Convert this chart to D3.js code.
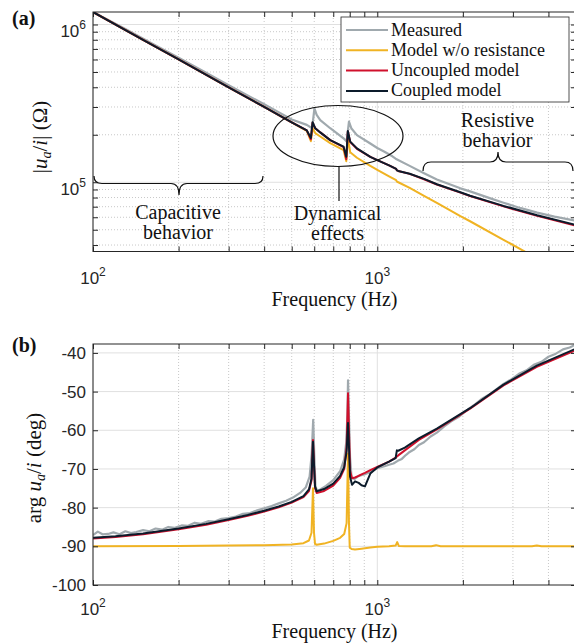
<!DOCTYPE html>
<html lang="en">
    <head>
        <meta charset="UTF-8">
        <title>Impedance of the actuator</title>
        <script type="text/javascript" src="https://cdnjs.cloudflare.com/ajax/libs/d3/7.8.5/d3.min.js"></script>
        <style>
            body { margin: 0; background: #fff; }
            svg { display: block; }
            .tick-label { font-family: 'Liberation Sans', Arial, sans-serif; font-size: 17px; fill: #262626; }
            .serif { font-family: 'Liberation Serif', 'Times New Roman', serif; fill: #111; }
        </style>
    </head>
    <body>
        <div id="chart"></div>
        <script type="text/javascript">
            // axis ticks
            var freqTicks = [100, 1000];
            var freqMinor = [200, 300, 400, 500, 600, 700, 800, 900, 2000, 3000, 4000];
            var magTicks = [1e5, 1e6];
            var magMinor = [4e4, 5e4, 6e4, 7e4, 8e4, 9e4, 2e5, 3e5, 4e5, 5e5, 6e5, 7e5, 8e5, 9e5];
            var phaseTicks = [-100, -90, -80, -70, -60, -50, -40];
            var legendLabels = ['Measured', 'Model w/o resistance', 'Uncoupled model', 'Coupled model'];

            // (a) magnitude, Ohm
            var magMeasFreq = [100, 130, 160, 200, 250, 300, 400, 500, 565, 590, 601, 612, 630, 683, 761, 780, 795, 810, 848, 945, 1000, 1060, 1130, 1160, 1300, 1460, 1620, 1960, 2120, 2500, 2780, 3200, 3650, 4200, 5000];
            var magMeasured = [1.2e6, 9.35e5, 7.65e5, 6.15e5, 4.95e5, 4.12e5, 3.12e5, 2.5e5, 2.31e5, 2.2e5, 2.94e5, 2.67e5, 2.48e5, 2.2e5, 1.9e5, 1.81e5, 2.42e5, 2.2e5, 1.99e5, 1.76e5, 1.65e5, 1.56e5, 1.46e5, 1.41e5, 1.27e5, 1.14e5, 1.04e5, 0.915e5, 0.875e5, 0.79e5, 0.742e5, 0.685e5, 0.642e5, 0.605e5, 0.57e5];

            var magModelFreq = [100, 150, 200, 300, 400, 500, 565, 584, 592, 605, 630, 683, 761, 778, 788, 803, 848, 945, 1000, 1100, 1165, 1172, 1185, 1300, 1460, 1620, 1960, 2120, 2780, 3650, 5000];
            var magNoRes = [1.2e6, 8.0e5, 6.0e5, 4.0e5, 3.0e5, 2.4e5, 2.12e5, 1.82e5, 2.2e5, 2.05e5, 1.95e5, 1.77e5, 1.6e5, 1.36e5, 1.9e5, 1.55e5, 1.43e5, 1.27e5, 1.2e5, 1.09e5, 1.03e5, 1.01e5, 1.0e5, 9.2e4, 8.2e4, 7.4e4, 6.1e4, 5.66e4, 4.32e4, 3.29e4, 2.4e4];
            var magUncoupled = [1.2e6, 8.0e5, 6.0e5, 4.0e5, 3.0e5, 2.4e5, 2.13e5, 1.87e5, 2.38e5, 2.2e5, 2.07e5, 1.85e5, 1.67e5, 1.4e5, 2.1e5, 1.8e5, 1.63e5, 1.45e5, 1.38e5, 1.28e5, 1.215e5, 1.19e5, 1.18e5, 1.13e5, 1.045e5, 0.968e5, 0.86e5, 0.818e5, 0.703e5, 0.612e5, 0.53e5];
            var magCoupled = [1.2e6, 8.0e5, 6.0e5, 4.0e5, 3.0e5, 2.4e5, 2.13e5, 1.91e5, 2.4e5, 2.2e5, 2.07e5, 1.85e5, 1.68e5, 1.45e5, 2.11e5, 1.81e5, 1.64e5, 1.45e5, 1.38e5, 1.28e5, 1.215e5, 1.19e5, 1.18e5, 1.133e5, 1.05e5, 0.971e5, 0.865e5, 0.821e5, 0.708e5, 0.618e5, 0.536e5];

            // (b) phase, deg
            var phaseMeasFreq = [100, 104, 108, 113, 118, 124, 130, 136, 142, 150, 158, 166, 175, 184, 194, 205, 216, 228, 240, 254, 268, 283, 300, 318, 337, 357, 378, 400, 425, 450, 478, 505, 535, 560, 578, 588, 595, 600, 606, 614, 630, 660, 700, 740, 765, 778, 785, 789, 794, 802, 812, 830, 860, 900, 950, 1000, 1060, 1100, 1140, 1180, 1220, 1260, 1300, 1350, 1400, 1460, 1540, 1620, 1720, 1820, 1930, 2050, 2180, 2320, 2460, 2600, 2780, 2950, 3150, 3350, 3550, 3780, 4000, 4250, 4500, 4750, 5000];
            var phaseMeasured = [-87.1, -86.2, -86.9, -86.8, -86.4, -86.9, -86.1, -86.6, -86.3, -85.8, -86.1, -85.4, -85.7, -85.0, -85.2, -84.6, -84.7, -83.9, -84.2, -83.5, -83.6, -82.9, -82.7, -82.3, -81.6, -81.4, -80.7, -80.2, -79.6, -78.9, -78.2, -77.4, -76.2, -74.8, -72.0, -66.0, -57.3, -66.0, -74.5, -75.6, -75.3, -74.4, -72.9, -70.6, -67.5, -63.0, -56.0, -47.1, -55.0, -67.0, -72.3, -72.6, -71.8, -71.4, -70.7, -69.8, -69.3, -68.9, -68.6, -67.9, -67.4, -66.4, -65.6, -64.9, -63.8, -63.1, -61.6, -60.6, -59.0, -57.7, -56.6, -55.0, -53.6, -52.0, -50.9, -49.6, -48.0, -46.9, -45.4, -44.5, -43.1, -42.3, -41.0, -40.2, -39.1, -38.6, -37.8];

            var phaseNoResFreq = [100, 200, 300, 400, 500, 550, 575, 587, 594, 599, 604, 612, 650, 700, 740, 765, 780, 789, 795, 800, 812, 835, 880, 945, 1000, 1100, 1160, 1175, 1190, 1250, 1550, 1610, 1670, 2120, 2780, 3500, 3640, 3780, 5000];
            var phaseNoRes = [-90.0, -89.9, -89.8, -89.7, -89.5, -89.2, -88.5, -86.5, -75.0, -86.5, -89.4, -89.6, -89.3, -88.6, -87.8, -86.8, -84.0, -66.0, -84.0, -90.3, -90.7, -90.8, -90.6, -90.3, -90.1, -90.0, -89.8, -88.9, -89.9, -90.0, -90.0, -89.7, -90.0, -90.0, -90.0, -90.0, -89.8, -90.0, -90.0];

            var phaseModelFreq = [100, 120, 150, 200, 250, 300, 350, 400, 450, 500, 550, 575, 587, 594, 599, 604, 612, 650, 700, 740, 765, 780, 789, 795, 802, 815, 835, 860, 880, 905, 945, 1000, 1100, 1160, 1172, 1185, 1250, 1400, 1620, 2120, 2780, 3640, 5000];
            var phaseUncoupled = [-88.0, -87.6, -86.9, -85.6, -84.4, -83.2, -82.1, -81.0, -79.9, -78.7, -77.3, -75.7, -73.0, -62.5, -69.0, -75.0, -76.2, -75.7, -74.3, -72.3, -70.0, -64.5, -50.4, -60.0, -70.5, -72.4, -72.2, -71.8, -71.4, -71.0, -70.3, -69.5, -68.1, -67.1, -66.8, -66.5, -65.2, -62.5, -59.8, -54.4, -48.4, -43.6, -39.3];
            var phaseCoupled = [-87.8, -87.4, -86.7, -85.4, -84.2, -83.0, -81.9, -80.8, -79.7, -78.5, -77.0, -75.3, -72.5, -63.0, -69.0, -74.5, -75.8, -75.2, -73.8, -71.8, -69.5, -65.5, -58.1, -64.0, -72.0, -74.1, -73.2, -73.6, -74.2, -74.5, -71.2, -69.6, -68.1, -67.2, -65.2, -65.3, -64.5, -62.1, -59.6, -54.3, -48.2, -43.3, -38.9];

            var COLORS = ['#a0a9ae', '#f0b323', '#d0102c', '#0c1b2b'];

            var LEFT = 93, RIGHT = 576;
            var A_TOP = 12, A_BOTTOM = 251.5;
            var B_TOP = 344, B_BOTTOM = 585;

            var x = d3.scaleLog().domain([100, 5000]).range([LEFT, RIGHT]);
            var yMag = d3.scaleLog().domain([3.64e4, 1.2e6]).range([A_BOTTOM, A_TOP]);
            var yPhase = d3.scaleLinear().domain([-100, -37.7]).range([B_BOTTOM, B_TOP]);

            var svg = d3.select('#chart').append('svg')
                .attr('width', 574)
                .attr('height', 644);

            var defs = svg.append('defs');
            [['clipA', A_TOP, A_BOTTOM], ['clipB', B_TOP, B_BOTTOM]].forEach(function (c) {
                defs.append('clipPath').attr('id', c[0])
                    .append('rect')
                    .attr('x', LEFT).attr('y', c[1])
                    .attr('width', RIGHT - LEFT).attr('height', c[2] - c[1]);
            });

            var drawGrid = function (g, top, bottom, yScale, yMajor, yMinor) {
                g.selectAll('.vminor').data(freqMinor).enter().append('line')
                    .attr('x1', x).attr('x2', x).attr('y1', top).attr('y2', bottom)
                    .attr('stroke', '#c8c8c8').attr('stroke-dasharray', '1,2');
                g.selectAll('.hminor').data(yMinor).enter().append('line')
                    .attr('x1', LEFT).attr('x2', RIGHT).attr('y1', yScale).attr('y2', yScale)
                    .attr('stroke', '#c8c8c8').attr('stroke-dasharray', '1,2');
                g.selectAll('.vmajor').data(freqTicks).enter().append('line')
                    .attr('x1', x).attr('x2', x).attr('y1', top).attr('y2', bottom)
                    .attr('stroke', '#e0e0e0');
                g.selectAll('.hmajor').data(yMajor).enter().append('line')
                    .attr('x1', LEFT).attr('x2', RIGHT).attr('y1', yScale).attr('y2', yScale)
                    .attr('stroke', '#e0e0e0');
            };

            var drawAxes = function (g, top, bottom, yScale, yTickVals) {
                var allX = freqTicks.concat(freqMinor);
                g.append('g').attr('transform', 'translate(0,' + bottom + ')')
                    .call(d3.axisBottom(x).tickValues(allX).tickSize(-5).tickFormat(''));
                g.append('g').attr('transform', 'translate(0,' + top + ')')
                    .call(d3.axisTop(x).tickValues(allX).tickSize(-5).tickFormat(''));
                g.append('g').attr('transform', 'translate(' + LEFT + ',0)')
                    .call(d3.axisLeft(yScale).tickValues(yTickVals).tickSize(-5).tickFormat(''));
                g.append('g').attr('transform', 'translate(' + RIGHT + ',0)')
                    .call(d3.axisRight(yScale).tickValues(yTickVals).tickSize(-5).tickFormat(''));
                g.selectAll('.domain').remove();
                g.selectAll('.tick line').attr('stroke', '#262626');

                // box
                g.append('rect')
                    .attr('x', LEFT).attr('y', top)
                    .attr('width', RIGHT - LEFT).attr('height', bottom - top)
                    .attr('fill', 'none').attr('stroke', '#262626').attr('stroke-width', 1);
            };

            var drawSeries = function (g, xs, ys, yScale, color, width) {
                var pts = xs.map(function (f, i) { return [f, ys[i]]; });
                g.append('path')
                    .datum(pts)
                    .attr('d', d3.line()
                        .x(function (d) { return x(d[0]); })
                        .y(function (d) { return yScale(d[1]); }))
                    .attr('fill', 'none')
                    .attr('stroke', color)
                    .attr('stroke-width', width)
                    .attr('stroke-linejoin', 'round');
            };

            // 10^n style label
            var powLabel = function (g, px, py, anchor, value) {
                var t = g.append('text')
                    .attr('class', 'tick-label')
                    .attr('x', px).attr('y', py)
                    .attr('text-anchor', anchor);
                t.append('tspan').text('10');
                t.append('tspan').attr('dy', -8).attr('font-size', 12)
                    .text(Math.round(Math.log10(value)));
            };

            // ---- panel (a)
            var ga = svg.append('g');
            drawGrid(ga, A_TOP, A_BOTTOM, yMag, magTicks, magMinor);

            var la = ga.append('g').attr('clip-path', 'url(#clipA)');
            drawSeries(la, magMeasFreq, magMeasured, yMag, COLORS[0], 2.2);
            drawSeries(la, magModelFreq, magNoRes, yMag, COLORS[1], 2);
            drawSeries(la, magModelFreq, magUncoupled, yMag, COLORS[2], 2);
            drawSeries(la, magModelFreq, magCoupled, yMag, COLORS[3], 2);

            drawAxes(ga, A_TOP, A_BOTTOM, yMag, magTicks.concat(magMinor));

            magTicks.forEach(function (v) { powLabel(ga, 86, yMag(v) + 12.5, 'end', v); });
            freqTicks.forEach(function (f) { powLabel(ga, x(f), 284, 'middle', f); });

            ga.append('text').attr('class', 'serif')
                .attr('x', (LEFT + RIGHT) / 2).attr('y', 306)
                .attr('text-anchor', 'middle').attr('font-size', 20)
                .text('Frequency (Hz)');

            var ya = ga.append('text').attr('class', 'serif')
                .attr('transform', 'translate(47,137) rotate(-90)')
                .attr('text-anchor', 'middle').attr('font-size', 21);
            ya.append('tspan').text('|');
            ya.append('tspan').attr('font-style', 'italic').text('u');
            ya.append('tspan').attr('font-style', 'italic').attr('font-size', 14).attr('dy', 4).text('a');
            ya.append('tspan').attr('dy', -4).text('/');
            ya.append('tspan').attr('font-style', 'italic').text('i');
            ya.append('tspan').text('| (\u03A9)');

            ga.append('text').attr('class', 'serif')
                .attr('x', 12).attr('y', 25)
                .attr('font-size', 20).attr('font-weight', 'bold')
                .text('(a)');

            // legend
            var leg = ga.append('g');
            leg.append('rect')
                .attr('x', 341).attr('y', 17).attr('width', 228).attr('height', 85)
                .attr('fill', '#fff').attr('stroke', '#262626').attr('stroke-width', 0.8);
            legendLabels.forEach(function (name, i) {
                var ly = 30 + i * 20.3;
                leg.append('line')
                    .attr('x1', 346).attr('x2', 388).attr('y1', ly).attr('y2', ly)
                    .attr('stroke', COLORS[i]).attr('stroke-width', 2);
                leg.append('text').attr('class', 'serif')
                    .attr('x', 391).attr('y', ly + 5.5)
                    .attr('font-size', 18)
                    .text(name);
            });

            // annotations
            var brace = function (x1, x2, xt, yEnd, yMid, yTip) {
                var r = 8;
                return 'M' + x1 + ',' + yEnd +
                    ' Q' + x1 + ',' + yMid + ' ' + (x1 + r) + ',' + yMid +
                    ' L' + (xt - r) + ',' + yMid +
                    ' Q' + xt + ',' + yMid + ' ' + xt + ',' + yTip +
                    ' Q' + xt + ',' + yMid + ' ' + (xt + r) + ',' + yMid +
                    ' L' + (x2 - r) + ',' + yMid +
                    ' Q' + x2 + ',' + yMid + ' ' + x2 + ',' + yEnd;
            };
            var ann = ga.append('g').attr('fill', 'none').attr('stroke', '#111').attr('stroke-width', 1.2);
            ann.append('path').attr('d', brace(94, 263, 179, 176, 183.5, 195));
            ann.append('path').attr('d', brace(423, 573, 498, 171, 162, 152));
            ann.append('ellipse')
                .attr('cx', 338).attr('cy', 136).attr('rx', 65).attr('ry', 30.5);
            ann.append('line')
                .attr('x1', 339).attr('x2', 339).attr('y1', 166.5).attr('y2', 201);

            [['Capacitive', 178, 219], ['behavior', 178, 239],
             ['Dynamical', 337.5, 220], ['effects', 337.5, 240],
             ['Resistive', 497.5, 127], ['behavior', 497.5, 147]].forEach(function (a) {
                ga.append('text').attr('class', 'serif')
                    .attr('x', a[1]).attr('y', a[2])
                    .attr('text-anchor', 'middle').attr('font-size', 20)
                    .text(a[0]);
            });

            // ---- panel (b)
            var gb = svg.append('g');
            drawGrid(gb, B_TOP, B_BOTTOM, yPhase, phaseTicks.slice(1), []);

            var lb = gb.append('g').attr('clip-path', 'url(#clipB)');
            drawSeries(lb, phaseMeasFreq, phaseMeasured, yPhase, COLORS[0], 2.2);
            drawSeries(lb, phaseNoResFreq, phaseNoRes, yPhase, COLORS[1], 2);
            drawSeries(lb, phaseModelFreq, phaseUncoupled, yPhase, COLORS[2], 2);
            drawSeries(lb, phaseModelFreq, phaseCoupled, yPhase, COLORS[3], 2);

            drawAxes(gb, B_TOP, B_BOTTOM, yPhase, phaseTicks);

            phaseTicks.forEach(function (v) {
                gb.append('text').attr('class', 'tick-label')
                    .attr('x', 86).attr('y', yPhase(v) + 6)
                    .attr('text-anchor', 'end')
                    .text(v);
            });
            freqTicks.forEach(function (f) { powLabel(gb, x(f), 615, 'middle', f); });

            gb.append('text').attr('class', 'serif')
                .attr('x', (LEFT + RIGHT) / 2).attr('y', 638)
                .attr('text-anchor', 'middle').attr('font-size', 20)
                .text('Frequency (Hz)');

            var yb = gb.append('text').attr('class', 'serif')
                .attr('transform', 'translate(41,468) rotate(-90)')
                .attr('text-anchor', 'middle').attr('font-size', 21);
            yb.append('tspan').text('arg ');
            yb.append('tspan').attr('font-style', 'italic').text('u');
            yb.append('tspan').attr('font-style', 'italic').attr('font-size', 14).attr('dy', 4).text('a');
            yb.append('tspan').attr('dy', -4).text('/');
            yb.append('tspan').attr('font-style', 'italic').text('i');
            yb.append('tspan').text(' (deg)');

            gb.append('text').attr('class', 'serif')
                .attr('x', 12).attr('y', 352)
                .attr('font-size', 20).attr('font-weight', 'bold')
                .text('(b)');
        </script>
    </body>
</html>
